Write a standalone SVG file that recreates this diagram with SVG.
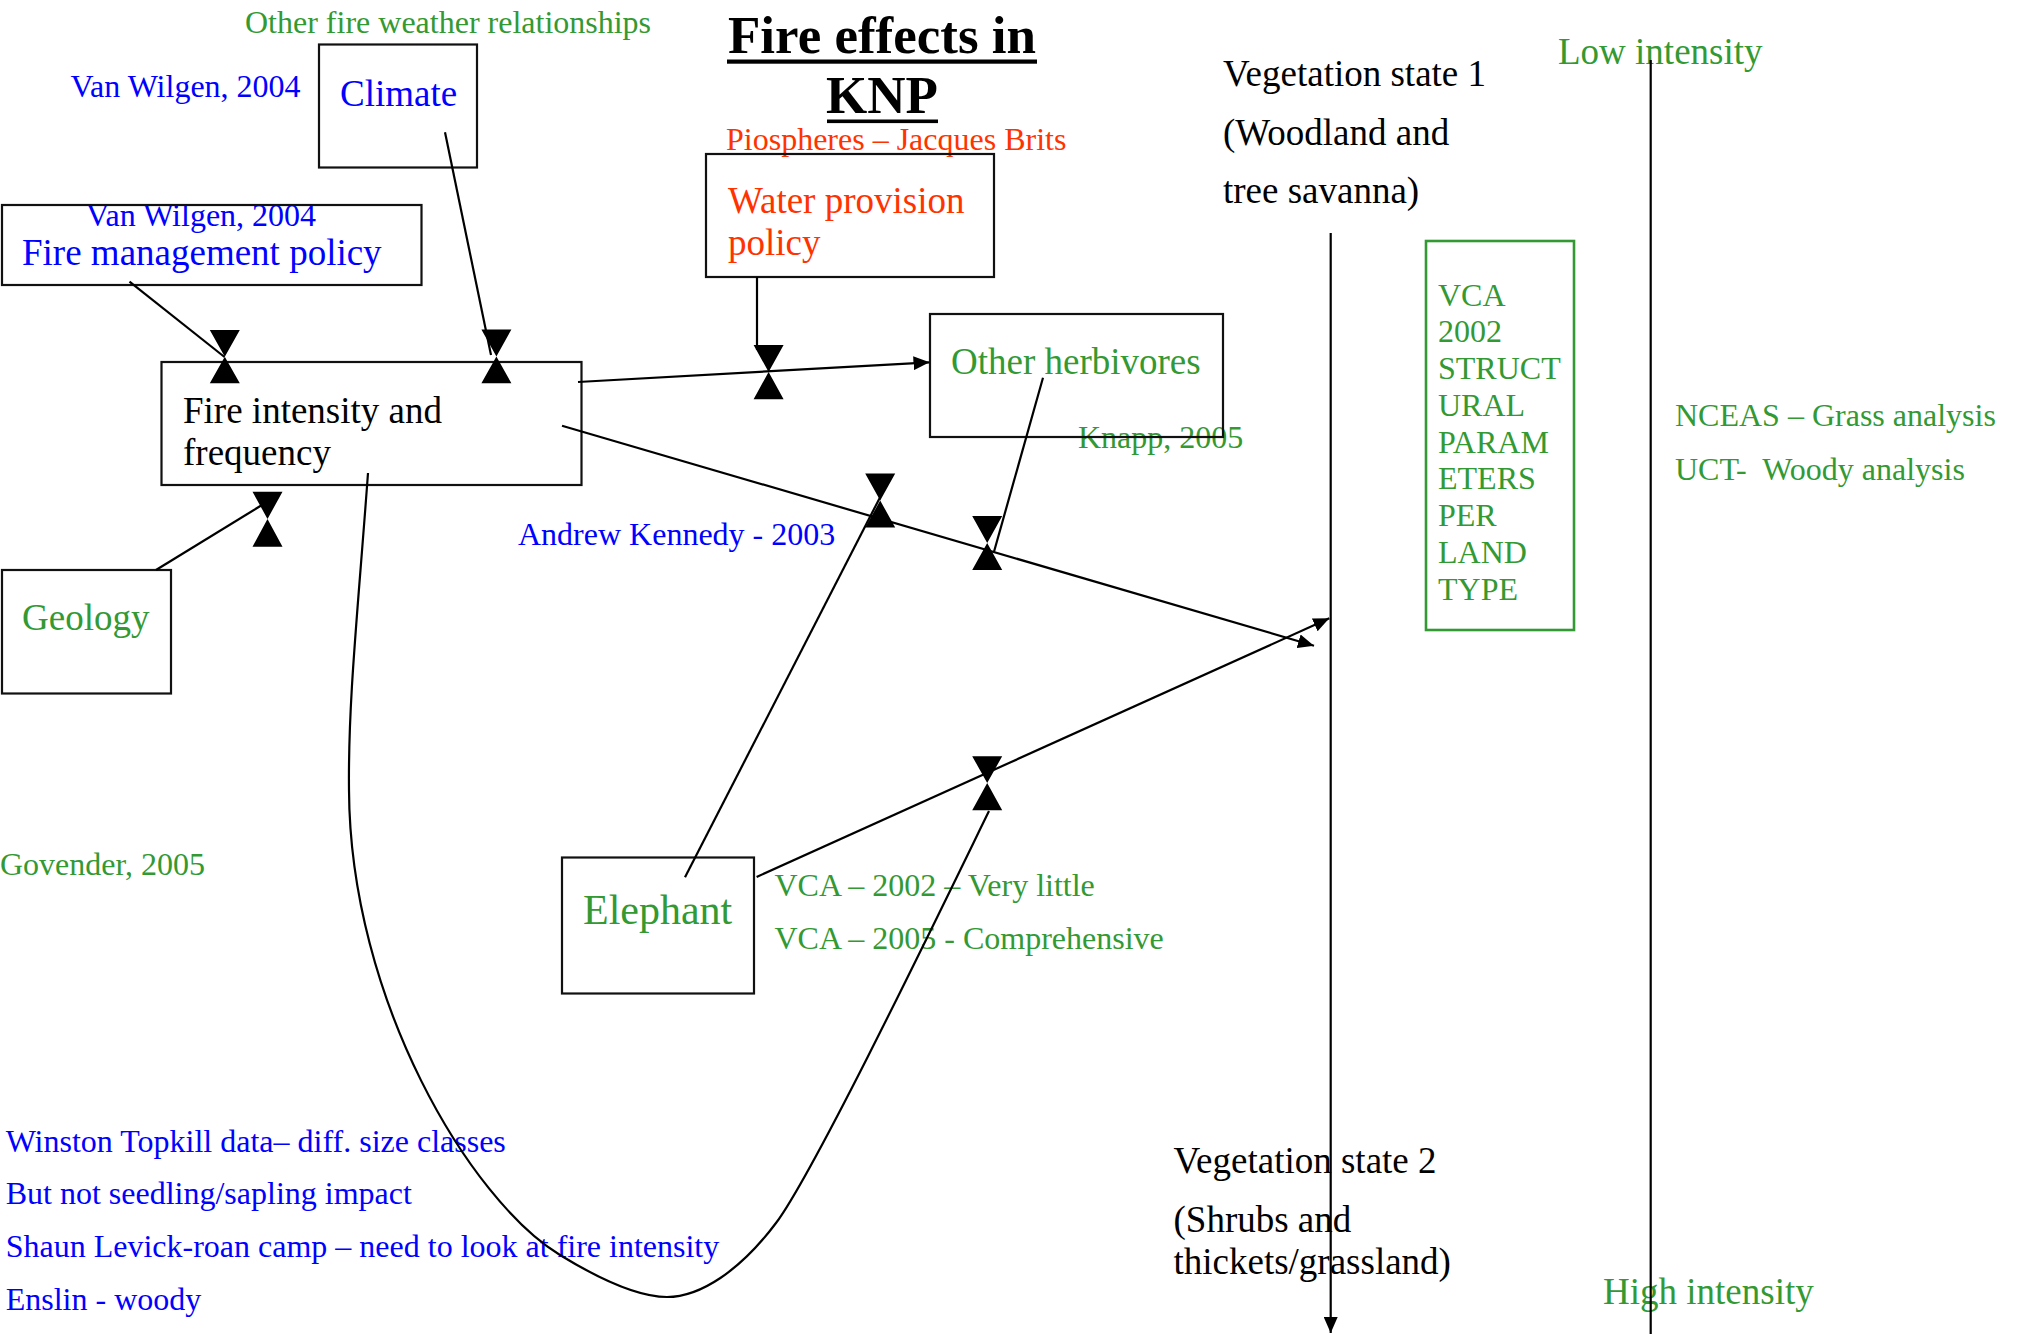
<svg xmlns="http://www.w3.org/2000/svg" width="2022" height="1334" viewBox="0 0 2022 1334">
<style>
text{font-family:"Liberation Serif","Times New Roman",serif}
.s{font-size:32px}
.m{font-size:37px}
.bl{fill:#0000FF}
.gr{fill:#339933}
.rd{fill:#FF3300}
.bk{fill:#000}
.box{fill:none;stroke:#111;stroke-width:2.2}
.gbox{fill:none;stroke:#339933;stroke-width:2.6}
.ln{fill:none;stroke:#000;stroke-width:2.2}
.hg{fill:#000}
</style>
<defs>
<marker id="arr" markerWidth="16" markerHeight="14" refX="16" refY="7" orient="auto" markerUnits="userSpaceOnUse"><path d="M0,0 L16,7 L0,14 z" fill="#000"/></marker>
</defs>
<rect width="2022" height="1334" fill="#fff"/>

<g id="title">
<text x="882" y="53" text-anchor="middle" font-size="53" font-weight="bold" class="bk">Fire effects in</text>
<rect x="727" y="59.5" width="310" height="4.2" fill="#000"/>
<text x="882" y="113" text-anchor="middle" font-size="53" font-weight="bold" class="bk">KNP</text>
<rect x="827" y="119.5" width="111" height="3.6" fill="#000"/>
</g>

<g id="annotations">
<text x="245" y="33" class="s gr">Other fire weather relationships</text>
<text x="70.5" y="97" class="s bl">Van Wilgen, 2004</text>
<text x="86" y="226" class="s bl">Van Wilgen, 2004</text>
<text x="726" y="150" class="s rd">Piospheres – Jacques Brits</text>
<text x="1078" y="448" class="s gr">Knapp, 2005</text>
<text x="518" y="545" class="s bl">Andrew Kennedy - 2003</text>
<text x="0" y="875" class="s gr">Govender, 2005</text>
<text x="774.5" y="896" class="s gr">VCA – 2002 – Very little</text>
<text x="774.5" y="949" class="s gr">VCA – 2005 - Comprehensive</text>
<text x="1675" y="426" class="s gr">NCEAS – Grass analysis</text>
<text x="1675" y="480" class="s gr" xml:space="preserve">UCT-  Woody analysis</text>
<text x="1558" y="64" class="m gr">Low intensity</text>
<text x="1603" y="1304" class="m gr">High intensity</text>
<text x="5.7" y="1152" class="s bl">Winston Topkill data– diff. size classes</text>
<text x="5.7" y="1204" class="s bl">But not seedling/sapling impact</text>
<text x="5.7" y="1257" class="s bl">Shaun Levick-roan camp – need to look at fire intensity</text>
<text x="5.7" y="1310" class="s bl">Enslin - woody</text>
</g>

<g id="climate">
<rect x="319" y="44.5" width="158" height="123" class="box"/>
<text x="340" y="106" class="m bl">Climate</text>
</g>

<g id="fire-management-policy">
<rect x="2" y="205" width="419.5" height="80" class="box"/>
<text x="22" y="265" class="m bl">Fire management policy</text>
</g>

<g id="fire-intensity">
<rect x="161.5" y="362" width="420" height="123" class="box"/>
<text x="183" y="423" class="m bk">Fire intensity and</text>
<text x="183" y="465" class="m bk">frequency</text>
</g>

<g id="water-provision">
<rect x="706" y="154" width="288" height="123" class="box"/>
<text x="728" y="213" class="m rd">Water provision</text>
<text x="728" y="255" class="m rd">policy</text>
</g>

<g id="other-herbivores">
<rect x="930" y="314" width="293" height="123" class="box"/>
<text x="951" y="374" class="m gr">Other herbivores</text>
</g>

<g id="geology">
<rect x="2" y="570" width="169" height="123.5" class="box"/>
<text x="22" y="630" class="m gr">Geology</text>
</g>

<g id="elephant">
<rect x="562" y="857.5" width="192" height="136" class="box"/>
<text x="583" y="923.5" font-size="42" class="gr">Elephant</text>
</g>

<g id="vca-structural">
<rect x="1426" y="241" width="148" height="389" class="gbox"/>
<text class="s gr">
<tspan x="1438" y="306">VCA</tspan>
<tspan x="1438" y="342">2002</tspan>
<tspan x="1438" y="379">STRUCT</tspan>
<tspan x="1438" y="416">URAL</tspan>
<tspan x="1438" y="453">PARAM</tspan>
<tspan x="1438" y="489">ETERS</tspan>
<tspan x="1438" y="526">PER</tspan>
<tspan x="1438" y="563">LAND</tspan>
<tspan x="1438" y="600">TYPE</tspan>
</text>
</g>

<g id="vegetation-state-1">
<text x="1223" y="86" class="m bk">Vegetation state 1</text>
<text x="1223" y="145" class="m bk">(Woodland and</text>
<text x="1223" y="203" class="m bk">tree savanna)</text>
</g>

<g id="vegetation-state-2">
<text x="1173.5" y="1173" class="m bk">Vegetation state 2</text>
<text x="1173.5" y="1232" class="m bk">(Shrubs and</text>
<text x="1173.5" y="1274" class="m bk">thickets/grassland)</text>
</g>

<g id="connectors">
<line x1="129.5" y1="281.7" x2="224.5" y2="357" class="ln"/>
<line x1="445" y1="132.3" x2="491" y2="355" class="ln"/>
<line x1="156" y1="570" x2="262" y2="505" class="ln"/>
<line x1="757" y1="277" x2="757" y2="350" class="ln"/>
<line x1="578" y1="382" x2="929.5" y2="362.3" class="ln" marker-end="url(#arr)"/>
<line x1="1043" y1="377.7" x2="994" y2="551.7" class="ln"/>
<line x1="562" y1="425.7" x2="1314" y2="645.7" class="ln" marker-end="url(#arr)"/>
<line x1="685" y1="877.3" x2="880" y2="497.4" class="ln"/>
<line x1="756.6" y1="877" x2="1329.3" y2="618.3" class="ln" marker-end="url(#arr)"/>
<path d="M368,473 C358,610 348,700 349,790 C350,1000 470,1200 560,1255 C605,1282.5 640,1297 667,1297 C700,1297 740,1271 776,1223 C815,1171 945,901 989,811" class="ln"/>
<line x1="1330.7" y1="233" x2="1330.7" y2="1333" class="ln" marker-end="url(#arr)"/>
<line x1="1650.7" y1="60" x2="1650.7" y2="1334" class="ln"/>
<g id="hourglasses">
<polygon class="hg" points="209.8,330 239.8,330 224.8,356.7 239.8,383.3 209.8,383.3 224.8,356.7"/>
<polygon class="hg" points="481.4,329.5 511.4,329.5 496.4,356.4 511.4,383.3 481.4,383.3 496.4,356.4"/>
<polygon class="hg" points="753.6,345 783.6,345 768.6,372 783.6,399.3 753.6,399.3 768.6,372"/>
<polygon class="hg" points="865.2,473.5 895.2,473.5 880.2,500.5 895.2,527.5 865.2,527.5 880.2,500.5"/>
<polygon class="hg" points="252.5,491.7 282.5,491.7 267.5,519 282.5,546.7 252.5,546.7 267.5,519"/>
<polygon class="hg" points="972.2,516 1002.2,516 987.2,543 1002.2,570 972.2,570 987.2,543"/>
<polygon class="hg" points="972.2,756.2 1002.2,756.2 987.2,783 1002.2,810.2 972.2,810.2 987.2,783"/>
</g>
</g>
</svg>
